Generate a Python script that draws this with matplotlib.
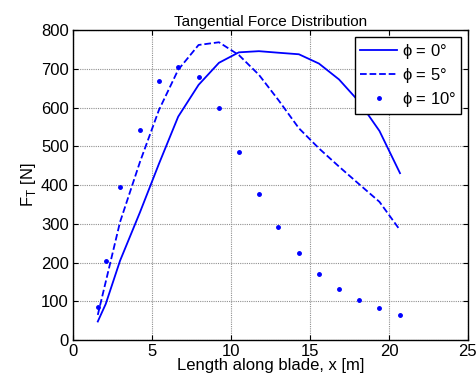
import matplotlib.pyplot as plt

plt.rcParams['font.family'] = ['Liberation Sans', 'DejaVu Sans']

# blade positions [m]
x = [1.57, 2.07, 2.98, 4.24, 5.44, 6.66, 7.95, 9.24, 10.5, 11.77,
     13.0, 14.3, 15.57, 16.84, 18.1, 19.4, 20.7]

# tangential force [N] for each pitch angle
ft_0 = [48, 93, 205, 330, 455, 577, 659, 716, 743, 746,
        742, 738, 714, 673, 616, 540, 431]
ft_5 = [65, 150, 305, 460, 594, 698, 762, 769, 736, 685,
        620, 547, 495, 448, 403, 357, 284]
ft_10 = [85, 204, 395, 543, 668, 706, 680, 599, 486, 378,
         293, 224, 170, 132, 103, 83, 65]

fig = plt.figure(figsize=(4.77, 3.83), dpi=100)
ax = fig.add_axes([0.153, 0.112, 0.828, 0.809])

ax.plot(x, ft_0, '-', color='blue', lw=1.3, label=r'$\mathregular{\phi}$ = 0°')
ax.plot(x, ft_5, '--', color='blue', lw=1.3, label=r'$\mathregular{\phi}$ = 5°')
ax.plot(x, ft_10, '.', color='blue', ms=5, label=r'$\mathregular{\phi}$ = 10°')

ax.set_xlim(0, 25)
ax.set_ylim(0, 800)
ax.set_xticks(range(0, 26, 5))
ax.set_yticks(range(0, 801, 100))
ax.grid(True, color='#909090', linestyle=(0, (1, 1)), lw=0.8)
ax.tick_params(direction='in', top=True, right=True, labelsize=12, pad=3)
for s in ax.spines.values():
    s.set_linewidth(1.0)

ax.set_title('Tangential Force Distribution', fontsize=11, pad=3)
ax.set_xlabel('Length along blade, x [m]', fontsize=12, labelpad=-1)
ax.set_ylabel(r'F$_\mathregular{T}$ [N]', fontsize=12, labelpad=2)

leg = ax.legend(loc='upper right', fontsize=12, fancybox=False, framealpha=1,
                edgecolor='black', borderaxespad=0.4, handlelength=2.2,
                handletextpad=0.3, labelspacing=0.3, borderpad=0.3)
leg.get_frame().set_linewidth(1.0)

fig.savefig('out.png', dpi=100)
